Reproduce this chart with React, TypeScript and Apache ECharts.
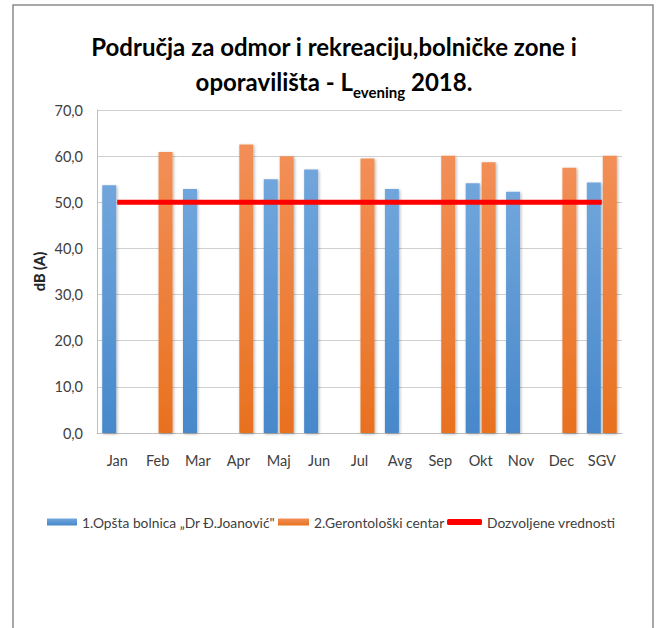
import React, { useEffect, useRef } from "react";
import * as echarts from "echarts";

const categories = ["Jan", "Feb", "Mar", "Apr", "Maj", "Jun", "Jul", "Avg", "Sep", "Okt", "Nov", "Dec", "SGV"];
const hospital = [53.7, null, 52.9, null, 55.0, 57.1, null, 52.9, null, 54.1, 52.3, null, 54.3];
const geronto = [null, 60.9, null, 62.5, 60.0, null, 59.5, null, 60.1, 58.7, null, 57.5, 60.1];
const limit = [50, 50, 50, 50, 50, 50, 50, 50, 50, 50, 50, 50, 50];
const seriesNames = ["1.Opšta bolnica „Dr Đ.Joanović\"", "2.Gerontološki centar", "Dozvoljene vrednosti"];
const titleLine1 = "Područja za odmor i rekreaciju,bolničke zone i";
const yAxisName = "dB (A)";

const FONT = "Lato, 'Open Sans', sans-serif";
const TXT = "#404040";

export default function App() {
  const ref = useRef<HTMLDivElement>(null);
  useEffect(() => {
    if (!ref.current) return;
    const chart = echarts.init(ref.current, undefined, { renderer: "svg" });
    const blue = new echarts.graphic.LinearGradient(0, 0, 0, 1, [
      { offset: 0, color: "#71a6dc" },
      { offset: 1, color: "#4788cb" },
    ]);
    const orange = new echarts.graphic.LinearGradient(0, 0, 0, 1, [
      { offset: 0, color: "#f28f57" },
      { offset: 1, color: "#e8711f" },
    ]);
    const legendText = { fontSize: 13.8, fontFamily: FONT, color: TXT };
    chart.setOption({
      animation: false,
      backgroundColor: "#ffffff",
      title: {
        text: `{m|${titleLine1}}\n{m|oporavilišta - L}{s|evening}{m| 2018.}`,
        left: 329,
        textAlign: "center",
        top: 24,
        textStyle: {
          rich: {
            m: { fontSize: 24, fontWeight: "bold", fontFamily: FONT, color: "#000", lineHeight: 35 },
            s: { fontSize: 15, fontWeight: "bold", fontFamily: FONT, color: "#000", lineHeight: 22, verticalAlign: "bottom" },
          },
        },
      },
      graphic: [
        {
          type: "rect",
          shape: { x: 13, y: 5, width: 640, height: 700 },
          style: { fill: "none", stroke: "#8c8c8c", lineWidth: 1.5 },
          silent: true,
        },
      ],
      legend: [
        {
          top: 515,
          left: 47,
          padding: 0,
          itemWidth: 30,
          itemHeight: 7,
          textStyle: legendText,
          data: [{ name: seriesNames[0], icon: "rect" }],
        },
        {
          top: 515,
          left: 278,
          padding: 0,
          itemWidth: 31,
          itemHeight: 7,
          textStyle: legendText,
          data: [{ name: seriesNames[1], icon: "rect" }],
        },
        {
          top: 515,
          left: 447,
          padding: 0,
          itemWidth: 35,
          itemHeight: 6,
          textStyle: legendText,
          data: [{ name: seriesNames[2], icon: "roundRect", itemStyle: { color: "#ff0000" } }],
        },
      ],
      grid: { left: 97, top: 110, right: 37, bottom: 195 },
      xAxis: {
        type: "category",
        data: categories,
        boundaryGap: true,
        axisLine: { lineStyle: { color: "#bfbfbf" } },
        axisTick: { show: false },
        axisLabel: { fontSize: 14.5, fontFamily: FONT, color: TXT, margin: 20 },
      },
      yAxis: {
        type: "value",
        min: 0,
        max: 70,
        interval: 10,
        name: yAxisName,
        nameLocation: "middle",
        nameGap: 50,
        nameMoveOverlap: false,
        nameRotate: 90,
        nameTextStyle: { fontSize: 14.5, fontWeight: 900, fontFamily: FONT, color: "#262626" },
        axisLine: { show: true, lineStyle: { color: "#bfbfbf" } },
        axisTick: { show: false },
        splitLine: { lineStyle: { color: "#d0d0d0" } },
        axisLabel: {
          fontSize: 14.5,
          fontFamily: FONT,
          color: TXT,
          margin: 14,
          formatter: (v: number) => v.toFixed(1).replace(".", ","),
        },
      },
      series: [
        {
          name: seriesNames[0],
          type: "bar",
          data: hospital,
          barWidth: 14,
          barGap: "14%",
          itemStyle: { color: blue, shadowBlur: 3, shadowColor: "rgba(0,0,0,0.3)", shadowOffsetX: 1, shadowOffsetY: 1 },
        },
        {
          name: seriesNames[1],
          type: "bar",
          data: geronto,
          barWidth: 14,
          barGap: "14%",
          itemStyle: { color: orange, shadowBlur: 3, shadowColor: "rgba(0,0,0,0.3)", shadowOffsetX: 1, shadowOffsetY: 1 },
        },
        {
          name: seriesNames[2],
          type: "line",
          data: limit,
          symbol: "none",
          z: 5,
          lineStyle: { color: "#ff0000", width: 5 },
          itemStyle: { color: "#ff0000" },
        },
      ],
    });
    return () => chart.dispose();
  }, []);
  return (
    <div
      ref={ref}
      style={{ position: "fixed", left: 0, top: 0, width: 659, height: 628, background: "#fff" }}
    />
  );
}
